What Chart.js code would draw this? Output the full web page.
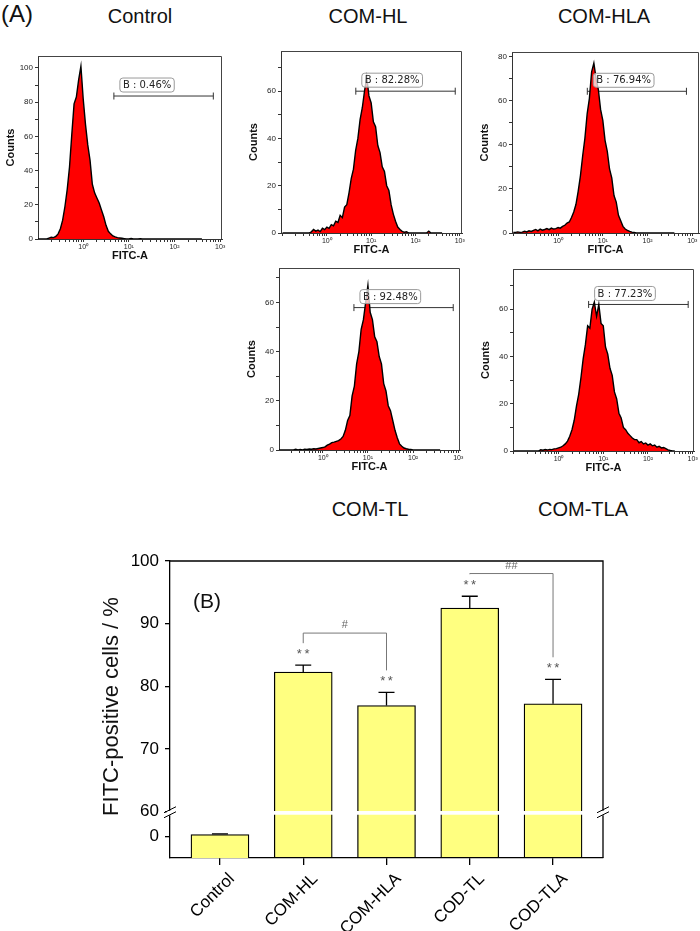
<!DOCTYPE html>
<html>
<head>
<meta charset="utf-8">
<script src="https://cdn.jsdelivr.net/npm/chart.js@4.4.1/dist/chart.umd.min.js"></script>
<style>
  body { margin: 0; background: #fff; }
  #page { position: relative; width: 700px; height: 931px; overflow: hidden; font-family: "Liberation Sans", Arial, sans-serif; }
  .lbl { position: absolute; transform: translate(-50%, -50%); white-space: nowrap; color: #111; }
  canvas { position: absolute; }
</style>
</head>
<body>
<div id="page">
  <div class="lbl" style="left:17px;top:14px;font-size:24px">(A)</div>
  <div class="lbl" style="left:140px;top:16px;font-size:20px">Control</div>
  <div class="lbl" style="left:368px;top:16px;font-size:20px">COM-HL</div>
  <div class="lbl" style="left:604px;top:16px;font-size:20px">COM-HLA</div>
  <div class="lbl" style="left:370px;top:509px;font-size:20px">COM-TL</div>
  <div class="lbl" style="left:583px;top:509px;font-size:20px">COM-TLA</div>
</div>
<script>
// ---- panel A: flow histograms (log10 FITC bin centres, counts per bin) ----
const logFitc = [-1.00,-0.95,-0.90,-0.85,-0.80,-0.75,-0.70,-0.65,-0.60,-0.55,
  -0.50,-0.45,-0.40,-0.35,-0.30,-0.25,-0.20,-0.15,-0.10,-0.05,
  0.00,0.05,0.10,0.15,0.20,0.25,0.30,0.35,0.40,0.45,
  0.50,0.55,0.60,0.65,0.70,0.75,0.80,0.85,0.90,0.95,
  1.00,1.05,1.10,1.15,1.20,1.25,1.30,1.35,1.40,1.45,
  1.50,1.55,1.60,1.65,1.70,1.75,1.80,1.85,1.90,1.95,
  2.00,2.05,2.10,2.15,2.20,2.25,2.30,2.35,2.40,2.45,
  2.50,2.55,2.60];

const countsControl = [0,0,0,0,0,0.5,1,0.8,1.5,3,
  6,11,19,29,42,61,79,83,93,101,
  82,67,55,46,32,27,24,21,17,13,
  8,4.5,3,1.8,1.2,0.8,0.6,0.4,0.2,0,
  0,0.3,0,0,0,0.2,0,0,0,0,
  0,0,0,0,0,0,0,0,0,0,
  0,0,0,0,0,0,0,0,0,0,
  0,0,0];

const countsHL = [0,0,0,0,0,0,0,0,0,0,
  0,0,0,0.5,1.5,0.8,1.2,0.6,2,1.4,
  2.5,2,3.5,3,5,4.5,7.5,6.5,11,12,
  17,23,27,35,40,48,53,60,66,58,
  55,47,45,37,34,28,26,20,18,12,
  8,5,2.5,1.5,0.7,0.3,0.5,0,0,0,
  0,0,0,0,0,0,0.8,0,0,0,
  0,0,0];

const countsHLA = [0.2,0.3,0.5,0.3,0.4,0.8,0.5,1,0.7,1.2,
  1.6,1,1.8,1.3,1.6,2,1.5,2.2,1.8,2,
  2.5,2.2,3,3.5,4.5,5,7,9.5,13,19,
  26,35,43,54,61,73,77,70,65,56,
  51,42,37,29,25,17,14,8,5.5,3,
  1.8,1.2,0.7,0.4,0.2,0,0,0,0,0,
  0,0,0,0,0,0,0,0,0,0,
  0,0,0];

const countsTL = [0,0,0,0,0,0,0,0,0.3,0,
  0.2,0,0.3,0.2,0.4,0.3,0.5,0.4,0.6,0.8,
  1,1.3,2,2.4,3,3.2,3.5,3.8,4.5,5.5,
  8,12,14,22,26,35,40,49,53,60,
  67,56,53,46,44,38,35,27,24,18,
  16,12,8,5,2.5,1.5,0.8,0.5,0.3,0.2,
  0,0,0,0,0,0,0,0,0,0,
  0,0,0];

const countsTLA = [0,0,0,0,0,0,0,0,0,0,
  0,0,0.5,0.3,0.6,0.4,0.7,0.6,0.9,1,
  1.3,1.6,2.2,3,4.2,6.2,9,13,19,24,
  31,39,45,53,52,60,63,57,62,54,
  53,44,41,35,32,25,22,16,14,10,
  9,7.5,6.5,5.5,4.8,4.8,3.5,4,3,3.4,
  2.5,3,2.2,2.5,1.6,2,1.3,1.5,1,0.5,
  0.2,0,0];

const histSeries = [countsControl, countsHL, countsHLA, countsTL, countsTLA];

// gate B of each histogram (FITC range and bar height in counts)
const gateLow = [4.7, 4.5, 4.5, 4.9, 4.7];
const gateHigh = [708, 790, 740, 776, 794];
const gateCount = [83.6, 60, 64.2, 57.9, 62];

// ---- panel B: bar chart ----
const groups = ['Control', 'COM-HL', 'COM-HLA', 'COD-TL', 'COD-TLA'];
const fitcPositive = [0.46, 82.28, 76.94, 92.48, 77.23];
const fitcError = [0.15, 1.1, 2.1, 1.9, 3.9];
const stars = ['', '**', '**', '**', '**'];
const sigPairs = [[1, 2, '#', 88.5], [3, 4, '##', 98]];

const decadeLabels = {1: '10\u2070', 10: '10\u00b9', 100: '10\u00b2', 1000: '10\u00b3'};

// ---- layout of the histograms ----
const histBoxes = [[38, 56, 222, 239], [281, 51, 462, 233], [512, 52, 699, 233], [279, 268, 460, 450], [513, 269, 694, 451]];
const histYMax = [107, 77, 82, 74, 77];
const histXLog = [[-0.99, 3.04], [-1.035, 3.05], [-1.03, 3.15], [-0.97, 3.04], [-1.02, 3.03]];

Chart.defaults.font.family = '"Liberation Sans", Arial, sans-serif';
Chart.defaults.color = '#111';

const logTicks = [];
[0.1, 1, 10, 100].forEach(d => { for (let m = 1; m < 10; m++) logTicks.push(d * m); });
logTicks.push(1000);

const page = document.getElementById('page');

function addCanvas(left, top, w, h) {
  const cv = document.createElement('canvas');
  cv.width = w; cv.height = h;
  cv.style.left = left + 'px'; cv.style.top = top + 'px';
  page.appendChild(cv);
  return cv;
}

const frameLines = {
  id: 'frameLines',
  afterDatasetsDraw(chart) {
    const {ctx, chartArea: a} = chart;
    ctx.save();
    ctx.strokeStyle = '#444';
    ctx.lineWidth = 1;
    ctx.beginPath();
    ctx.moveTo(a.left, a.top + 0.5);
    ctx.lineTo(a.right - 0.5, a.top + 0.5);
    ctx.lineTo(a.right - 0.5, a.bottom);
    ctx.stroke();
    ctx.restore();
  }
};

const gateText = {
  id: 'gateText',
  afterDatasetsDraw(chart, args, opts) {
    const p = chart.getDatasetMeta(1).data[0];
    const {ctx} = chart;
    ctx.save();
    ctx.font = '10px "DejaVu Sans"';
    const w = ctx.measureText(opts.text).width + 6;
    const x = p.x + 6, y = p.y - 18;
    ctx.fillStyle = 'rgba(255,255,255,0.75)';
    ctx.strokeStyle = '#9a9a9a';
    ctx.lineWidth = 1;
    ctx.beginPath();
    ctx.roundRect(x, y, w, 14, 3);
    ctx.fill();
    ctx.stroke();
    ctx.fillStyle = '#222';
    ctx.textBaseline = 'middle';
    ctx.fillText(opts.text, x + 3, y + 7.5);
    ctx.restore();
  }
};

histSeries.forEach((counts, i) => {
  const [L, T, R, B] = histBoxes[i];
  const cv = addCanvas(L - 40, T - 12, R - L + 50, B - T + 38);
  new Chart(cv, {
    type: 'line',
    data: {
      datasets: [{
        data: logFitc.map((p, k) => ({x: Math.pow(10, p), y: counts[k]})),
        fill: 'origin',
        backgroundColor: '#ff0000',
        borderColor: '#000',
        borderWidth: 1.4,
        pointRadius: 0,
        tension: 0
      }, {
        data: [{x: gateLow[i], y: gateCount[i]}, {x: gateHigh[i], y: gateCount[i]}],
        borderColor: '#333',
        borderWidth: 1,
        pointStyle: 'line',
        rotation: 90,
        pointRadius: 3.5,
        pointBorderColor: '#333',
        pointBorderWidth: 1,
        fill: false
      }]
    },
    options: {
      responsive: false,
      animation: false,
      devicePixelRatio: 1,
      layout: {padding: {left: 0, top: 12, right: 10, bottom: 0}},
      plugins: {
        legend: {display: false},
        tooltip: {enabled: false},
        gateText: {text: 'B : ' + fitcPositive[i].toFixed(2) + '%'}
      },
      scales: {
        x: {
          type: 'logarithmic',
          min: Math.pow(10, histXLog[i][0]),
          max: Math.pow(10, histXLog[i][1]),
          afterBuildTicks: s => { s.ticks = logTicks.filter(v => v >= s.min && v <= s.max).map(v => ({value: v})); },
          afterFit: s => { s.height = 26; },
          ticks: {autoSkip: false, maxRotation: 0, font: {size: 7}, padding: 1, color: '#222',
            callback: v => decadeLabels[v] || ''},
          grid: {drawOnChartArea: false, tickLength: 3, color: '#333'},
          border: {color: '#333'},
          title: {display: true, text: 'FITC-A', font: {size: 11, weight: 'bold'}, padding: {top: 0, bottom: 2}}
        },
        y: {
          min: 0,
          max: histYMax[i],
          afterFit: s => { s.width = 40; },
          ticks: {stepSize: 10, includeBounds: false, font: {size: 8}, padding: 2, color: '#222',
            callback: v => (v % 20 === 0 ? v : '')},
          grid: {drawOnChartArea: false, tickLength: 3, color: '#333'},
          border: {color: '#333'},
          title: {display: true, text: 'Counts', font: {size: 11, weight: 'bold'}, padding: {top: 6, bottom: 0}}
        }
      }
    },
    plugins: [frameLines, gateText]
  });
});

// ---- panel B ----
const LOW_MIN = -4.6, LOW_MAX = 5.4;

const barDecor = {
  id: 'barDecor',
  afterDatasetsDraw(chart) {
    const {ctx, chartArea: a} = chart;
    const xs = chart.scales.x, yT = chart.scales.yTop, yB = chart.scales.yBot;
    const yb = yT.bottom;
    ctx.save();
    // white break band across the bars
    ctx.fillStyle = '#fff';
    ctx.fillRect(a.left + 1, yb - 0.5, a.right - a.left - 2, 3.5);
    // top and right frame
    ctx.strokeStyle = '#000';
    ctx.lineWidth = 1.3;
    ctx.beginPath();
    ctx.moveTo(a.left, a.top);
    ctx.lineTo(a.right, a.top);
    ctx.lineTo(a.right, a.bottom);
    ctx.stroke();
    // axis break marks
    [a.left, a.right].forEach(x => {
      ctx.fillStyle = '#fff';
      ctx.fillRect(x - 3, yb - 1, 6, 4.5);
      ctx.strokeStyle = '#000';
      ctx.lineWidth = 1;
      ctx.beginPath();
      ctx.moveTo(x - 6, yb + 1); ctx.lineTo(x + 6, yb - 5);
      ctx.moveTo(x - 6, yb + 6); ctx.lineTo(x + 6, yb);
      ctx.stroke();
    });
    // error bars and stars
    const caps = [];
    fitcPositive.forEach((v, i) => {
      const sc = v >= 60 ? yT : yB;
      const x = xs.getPixelForValue(i);
      const y0 = sc.getPixelForValue(v), y1 = sc.getPixelForValue(v + fitcError[i]);
      caps.push(y1);
      ctx.strokeStyle = '#000';
      ctx.lineWidth = 1.3;
      ctx.beginPath();
      ctx.moveTo(x, y0); ctx.lineTo(x, y1);
      ctx.moveTo(x - 8, y1); ctx.lineTo(x + 8, y1);
      ctx.stroke();
      if (stars[i]) {
        ctx.fillStyle = '#555';
        ctx.font = '13px "Liberation Sans", Arial';
        ctx.textAlign = 'center';
        ctx.textBaseline = 'middle';
        ctx.fillText(stars[i].split('').join('\u2009'), x, y1 - 11);
      }
    });
    // significance brackets
    sigPairs.forEach(([p, q, txt, level]) => {
      const xa = xs.getPixelForValue(p), xb = xs.getPixelForValue(q);
      const yl = yT.getPixelForValue(level);
      ctx.strokeStyle = '#777';
      ctx.lineWidth = 1;
      ctx.beginPath();
      ctx.moveTo(xa, caps[p] - 22); ctx.lineTo(xa, yl);
      ctx.lineTo(xb, yl); ctx.lineTo(xb, caps[q] - 22);
      ctx.stroke();
      ctx.fillStyle = '#666';
      ctx.font = '11px "Liberation Sans", Arial';
      ctx.textAlign = 'center';
      ctx.textBaseline = 'middle';
      ctx.fillText(txt, (xa + xb) / 2, yl - 8);
    });
    // panel letter and axis title
    ctx.fillStyle = '#111';
    ctx.font = '21px "Liberation Sans", Arial';
    ctx.textAlign = 'left';
    ctx.fillText('(B)', a.left + 23, a.top + 41);
    ctx.translate(a.left - 58, (a.top + a.bottom) / 2 - 3);
    ctx.rotate(-Math.PI / 2);
    ctx.textAlign = 'center';
    ctx.font = '22px "Liberation Sans", Arial';
    ctx.fillText('FITC-positive cells / %', 0, 0);
    ctx.restore();
  }
};

const barCv = addCanvas(0, 530, 700, 401);
new Chart(barCv, {
  type: 'bar',
  data: {
    datasets: [{
      yAxisID: 'yBot',
      data: fitcPositive.map((v, i) => ({x: i, y: Math.min(v, LOW_MAX)})),
      base: LOW_MIN,
      grouped: false,
      barThickness: 58,
      backgroundColor: '#ffff80',
      borderColor: '#000',
      borderWidth: 1.3,
      borderSkipped: c => (fitcPositive[c.dataIndex] > LOW_MAX ? 'end' : 'start')
    }, {
      yAxisID: 'yTop',
      data: fitcPositive.map((v, i) => ({x: i, y: v})).filter(d => d.y >= 60),
      base: 60,
      grouped: false,
      barThickness: 58,
      backgroundColor: '#ffff80',
      borderColor: '#000',
      borderWidth: 1.3,
      borderSkipped: 'start'
    }]
  },
  options: {
    responsive: false,
    animation: false,
    devicePixelRatio: 1,
    layout: {padding: {left: 110, top: 31, right: 97, bottom: 0}},
    plugins: {legend: {display: false}, tooltip: {enabled: false}},
    scales: {
      x: {
        type: 'linear',
        offset: false,
        min: -0.6,
        max: 4.6,
        afterBuildTicks: s => { s.ticks = groups.map((g, i) => ({value: i})); },
        afterFit: s => { s.height = 73; },
        ticks: {autoSkip: false, minRotation: 45, maxRotation: 45, font: {size: 17}, color: '#000',
          padding: 4, labelOffset: 12, callback: v => groups[v]},
        grid: {offset: false, drawOnChartArea: false, tickLength: 7, color: '#000', lineWidth: 1.3},
        border: {color: '#000', width: 1.3}
      },
      yBot: {
        type: 'linear',
        position: 'left',
        stack: 'v',
        stackWeight: 1,
        min: LOW_MIN,
        max: LOW_MAX,
        afterBuildTicks: s => { s.ticks = [{value: 0}]; },
        afterFit: s => { s.width = 60; },
        ticks: {font: {size: 17}, color: '#000', padding: 6, callback: v => String(v)},
        grid: {drawOnChartArea: false, tickLength: 5, color: '#000', lineWidth: 1.3},
        border: {color: '#000', width: 1.3}
      },
      yTop: {
        type: 'linear',
        position: 'left',
        stack: 'v',
        stackWeight: 5.42,
        min: 60,
        max: 100,
        afterFit: s => { s.width = 60; },
        ticks: {stepSize: 5, font: {size: 17}, color: '#000', padding: 6,
          callback: v => (v % 10 === 0 ? v : '')},
        grid: {drawOnChartArea: false, tickLength: 5, color: '#000', lineWidth: 1.3},
        border: {color: '#000', width: 1.3}
      }
    }
  },
  plugins: [barDecor]
});
</script>
</body>
</html>
